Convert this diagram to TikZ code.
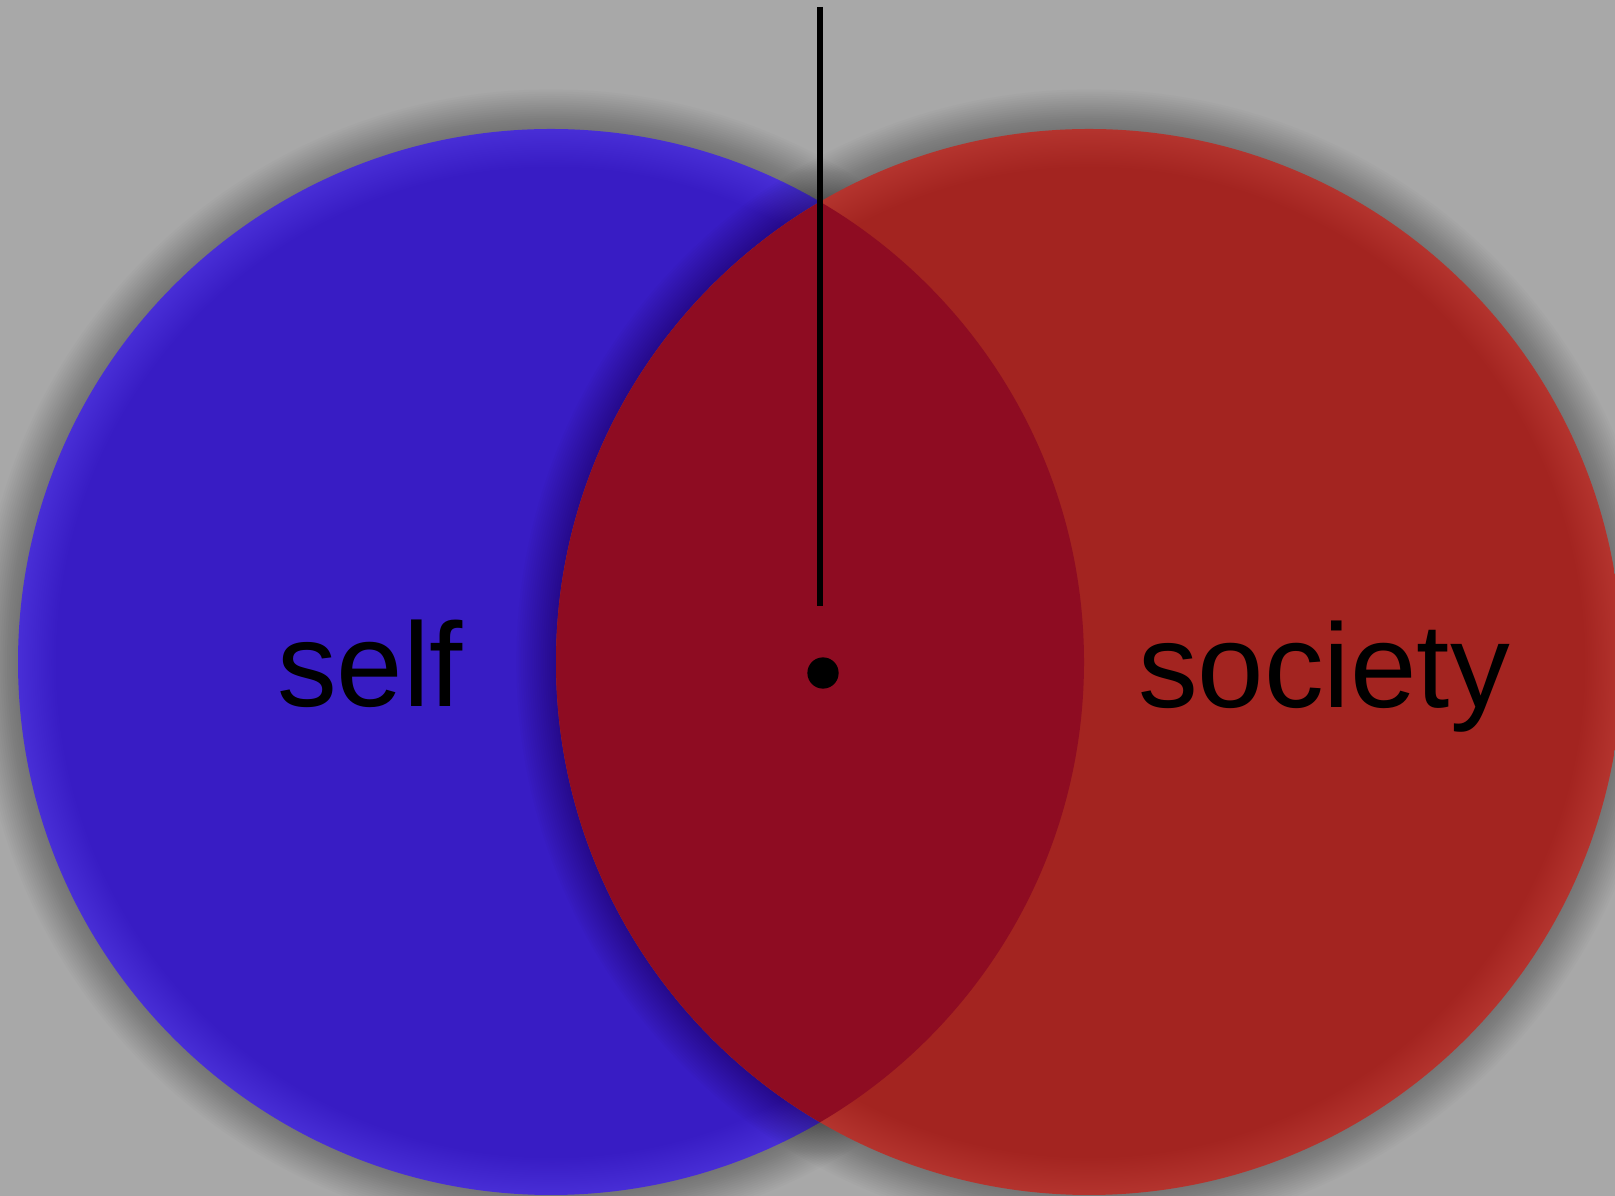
\documentclass[tikz,border=0pt]{standalone}
\usepackage{fontspec}
\setmainfont{Liberation Sans}
\usetikzlibrary{positioning}

\definecolor{bggray}{RGB}{168,168,168}
\definecolor{selfblue}{RGB}{56,28,196}
\definecolor{selfedge}{RGB}{72,46,214}
\definecolor{socred}{RGB}{163,36,32}
\definecolor{socedge}{RGB}{180,52,46}
\definecolor{bothred}{RGB}{142,12,34}

\pgfdeclareradialshading{selfrim}{\pgfpointorigin}{color(0bp)=(selfblue); color(23.2bp)=(selfblue); color(25bp)=(selfedge); color(50bp)=(selfedge)}
\pgfdeclareradialshading{socrim}{\pgfpointorigin}{color(0bp)=(socred); color(23.2bp)=(socred); color(25bp)=(socedge); color(50bp)=(socedge)}

\begin{document}
\begin{tikzpicture}[
        x=0.02cm, y=0.02cm,
        lbl/.style={font=\fontsize{68}{68}\selectfont, inner sep=0pt, anchor=base},
        halo/.style={black, opacity=0.015},
        pin/.style={line width=3.4pt, black},
        dotnode/.style={circle, fill=black, inner sep=0pt, minimum size=17.8pt},
    ]
    \fill[bggray] (0,0) rectangle (1615,1196);
    \useasboundingbox (0,0) rectangle (1615,1196);
    \clip (0,0) rectangle (1615,1196);

    \coordinate (selfc) at (551,534);
    \coordinate (socc) at (1089,534);

    % self circle
    \foreach \d in {1,...,18}
        \fill[halo] (selfc) circle ({533+2.2*\d});
    \shade[shading=selfrim] (selfc) circle (533);

    % society circle
    \foreach \d in {1,...,18}
        \fill[halo] (socc) circle ({533+2.2*\d});
    \shade[shading=socrim] (socc) circle (533);

    % overlap
    \begin{scope}
        \clip (selfc) circle (533);
        \fill[bothred] (socc) circle (533);
    \end{scope}

    \node[lbl] (self) at (370,489) {self};
    \node[lbl] (society) at (1324,488) {society};

    \node[dotnode] (dot) at (823,523) {};
    \coordinate (pintop) at (820,1189);
    \coordinate (pinend) at (820,590);
    \draw[pin] (pintop) -- (pinend);
\end{tikzpicture}
\end{document}
